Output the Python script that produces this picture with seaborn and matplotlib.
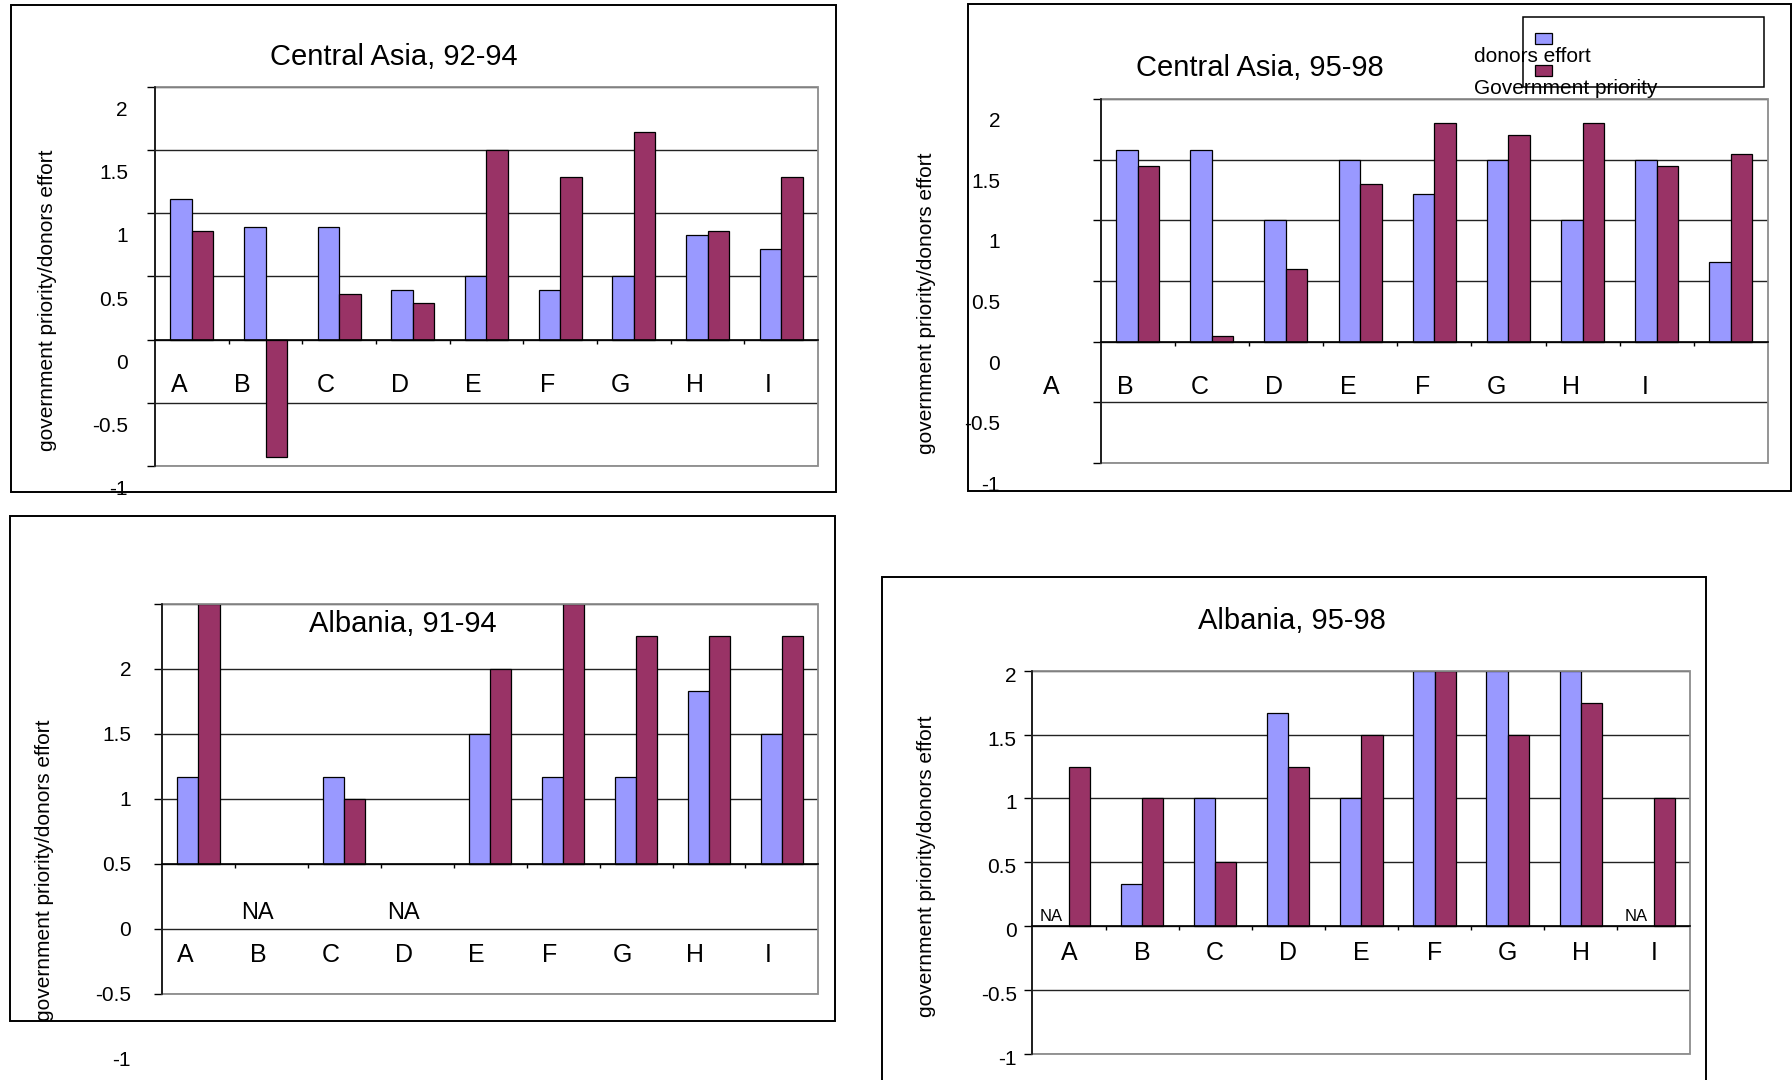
import numpy as np
import pandas as pd
import matplotlib
matplotlib.use("Agg")
import matplotlib.pyplot as plt
from matplotlib.patches import Rectangle
from matplotlib.transforms import ScaledTranslation
import seaborn as sns

nan = np.nan

# Sectors and series
sectors = ["A", "B", "C", "D", "E", "F", "G", "H", "I"]
series_names = ["donors effort", "Government priority"]
bar_colors = ["#9999FF", "#993366"]
ytick_values = [-1, -0.5, 0, 0.5, 1, 1.5, 2]
ytick_labels = ["-1", "-0.5", "0", "0.5", "1", "1.5", "2"]

# Central Asia, 92-94
ca_9294_donors = [1.11, 0.89, 0.89, 0.39, 0.50, 0.39, 0.50, 0.83, 0.72]
ca_9294_gov = [0.86, -0.93, 0.36, 0.29, 1.50, 1.29, 1.64, 0.86, 1.29]

# Central Asia, 95-98
ca_9598_donors = [1.58, 1.58, 1.00, 1.50, 1.22, 1.50, 1.00, 1.50, 0.66]
ca_9598_gov = [1.45, 0.05, 0.60, 1.30, 1.80, 1.70, 1.80, 1.45, 1.55]

# Albania, 91-94 (NA = not available)
al_9194_donors = [0.67, nan, 0.67, nan, 1.00, 0.67, 0.67, 1.33, 1.00]
al_9194_gov = [2.00, nan, 0.50, nan, 1.50, 2.00, 1.75, 1.75, 1.75]

# Albania, 95-98
al_9598_donors = [nan, 0.33, 1.00, 1.67, 1.00, 2.00, 2.00, 2.00, nan]
al_9598_gov = [1.25, 1.00, 0.50, 1.25, 1.50, 2.00, 1.50, 1.75, 1.00]

sns.set_style("white")
plt.rcParams["font.family"] = ["Liberation Sans", "DejaVu Sans"]

W, H = 1792, 1080
fig = plt.figure(figsize=(W / 100, H / 100), dpi=100)


def fx(px):
    return px / W


def fy(py):
    return 1 - py / H


def shift(artist, dx, dy):
    """Move an artist by (dx, dy) pixels; dy positive goes down."""
    artist.set_transform(artist.get_transform()
                         + ScaledTranslation(dx / 100, -dy / 100, fig.dpi_scale_trans))


def frame(l, t, r, b):
    fig.patches.append(Rectangle((fx(l), fy(b)), (r - l) / W, (b - t) / H,
                                 transform=fig.transFigure, fill=False,
                                 edgecolor="black", linewidth=1.4, zorder=0))


def panel(title, donors, gov, box, area, title_xy, ylabel_xy, ytick_pad,
          ytick_dy, cat_dx, cat_dy, cat_shift=0, na_dy=49, nudge=None):
    nudge = nudge or {}
    frame(*box)
    l, t, r, b = area
    ax = fig.add_axes([fx(l), fy(b), (r - l) / W, (b - t) / H])

    df = pd.DataFrame({
        "sector": sectors * 2,
        "series": np.repeat(series_names, len(sectors)),
        "value": list(donors) + list(gov),
    })
    sns.barplot(data=df, x="sector", y="value", hue="series", order=sectors,
                hue_order=series_names, palette=bar_colors, saturation=1,
                width=0.58, edgecolor="black", linewidth=0.9, errorbar=None,
                legend=False, ax=ax)

    ax.set_xlim(-0.5, len(sectors) - 0.5)
    ax.set_ylim(-1, 2)
    ax.set_axisbelow(True)
    ax.set_xlabel("")

    # horizontal gridlines and Excel-like plot area border
    ax.set_yticks(ytick_values)
    ax.set_yticklabels(ytick_labels)
    ax.yaxis.grid(True, color="#222222", linewidth=1)
    ax.add_patch(Rectangle((0, 0), 1, 1, transform=ax.transAxes, fill=False,
                           edgecolor="#8c8c8c", linewidth=1.3, zorder=2.4,
                           clip_on=False))
    for side in ("top", "right"):
        ax.spines[side].set_visible(False)
    ax.spines["left"].set_color("black")
    ax.spines["left"].set_linewidth(1.1)
    ax.spines["bottom"].set_position(("data", 0))
    ax.spines["bottom"].set_color("black")
    ax.spines["bottom"].set_linewidth(1.2)

    # category axis: boundary tick marks on the zero line
    ax.set_xticks(np.arange(0.5, len(sectors) - 1, 1))
    ax.tick_params(axis="x", which="major", bottom=True, direction="out",
                   length=3, width=1, color="black", labelbottom=False)
    ax.tick_params(axis="y", left=True, direction="out", length=6, width=1,
                   color="black", pad=ytick_pad, labelsize=15,
                   labelcolor="black")

    for i, s in enumerate(sectors):
        txt = ax.text(i - cat_shift, 0, s, ha="center", va="center",
                      fontsize=18, color="black", clip_on=False)
        shift(txt, cat_dx + nudge.get(s, 0), cat_dy)
        if np.isnan(donors[i]) and np.isnan(gov[i]):
            na = ax.text(i, 0, "NA", ha="center", va="center", fontsize=17,
                         color="black", clip_on=False)
            shift(na, cat_dx, na_dy)
        elif np.isnan(donors[i]):
            na = ax.text(i - 0.145, 0, "NA", ha="center", va="center",
                         fontsize=12, color="black", clip_on=False)
            shift(na, -7, -10)

    ax.set_ylabel("government priority/donors effort", fontsize=15,
                  va="center", color="black")
    ax.yaxis.set_label_coords(fx(ylabel_xy[0]), fy(ylabel_xy[1]),
                              transform=fig.transFigure)

    fig.text(fx(title_xy[0]), fy(title_xy[1]), title, ha="center",
             va="center", fontsize=21, color="black", zorder=5)

    for lbl in ax.get_yticklabels():
        shift(lbl, 0, ytick_dy)
    return ax


panel("Central Asia, 92-94", ca_9294_donors, ca_9294_gov,
      box=(10.5, 5, 835.5, 492), area=(155, 87, 818, 466),
      title_xy=(394, 57), ylabel_xy=(48, 300), ytick_pad=13.5,
      ytick_dy=21.5, cat_dx=-13, cat_dy=45, nudge={"B": -10})

panel("Central Asia, 95-98", ca_9598_donors, ca_9598_gov,
      box=(968, 4, 1790.5, 491), area=(1100.6, 99, 1768, 463),
      title_xy=(1260, 68), ylabel_xy=(926, 303), ytick_pad=66.4,
      ytick_dy=20.5, cat_dx=-12, cat_dy=45, cat_shift=1)

panel("Albania, 91-94", al_9194_donors, al_9194_gov,
      box=(9.5, 516, 834.5, 1021), area=(162, 604, 818.4, 993.6),
      title_xy=(403, 623.5), ylabel_xy=(45, 870), ytick_pad=16.3,
      ytick_dy=64.9, cat_dx=-13.5, cat_dy=91.5, na_dy=49)

panel("Albania, 95-98", al_9598_donors, al_9598_gov,
      box=(882, 577, 1706, 1110), area=(1032.4, 670.7, 1690.4, 1054),
      title_xy=(1292, 621), ylabel_xy=(926.5, 866), ytick_pad=5.3,
      ytick_dy=3.5, cat_dx=0, cat_dy=26.3)

# legend of the Central Asia 95-98 chart
fig.patches.append(Rectangle((fx(1523), fy(87)), (1764 - 1523) / W, (87 - 17) / H,
                             transform=fig.transFigure, fill=False,
                             edgecolor="black", linewidth=1.1, zorder=1))
for (top, color) in ((33, bar_colors[0]), (65, bar_colors[1])):
    fig.patches.append(Rectangle((fx(1535), fy(top + 11)), 17 / W, 11 / H,
                                 transform=fig.transFigure, facecolor=color,
                                 edgecolor="black", linewidth=0.9, zorder=2))
fig.text(fx(1474), fy(57), series_names[0], ha="left", va="center",
         fontsize=15, color="black", zorder=3)
fig.text(fx(1474), fy(88), series_names[1], ha="left", va="center",
         fontsize=15, color="black", zorder=3)

fig.savefig("out.png", dpi=100, facecolor="white")
